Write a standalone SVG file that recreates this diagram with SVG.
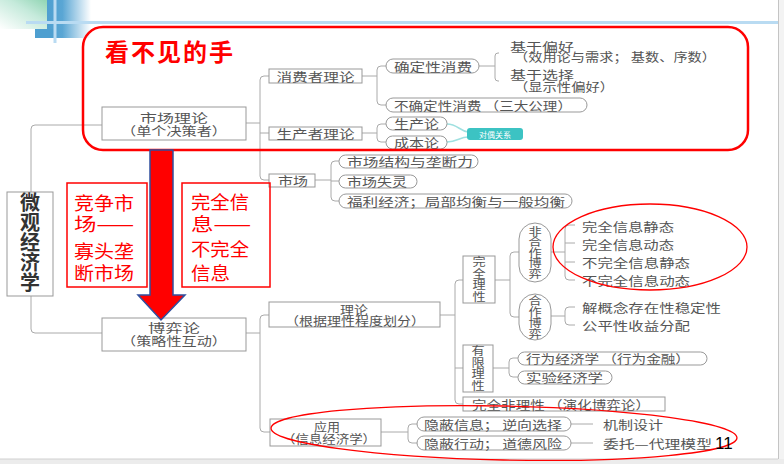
<svg xmlns="http://www.w3.org/2000/svg" width="784" height="464" viewBox="0 0 784 464">
<defs>
<linearGradient id="gGreen" x1="0" y1="1" x2="1" y2="0">
<stop offset="0" stop-color="#ffffff"/>
<stop offset="0.6" stop-color="#c5eadb"/>
<stop offset="1" stop-color="#8fd4b2"/>
</linearGradient>
<linearGradient id="gBlue" x1="0" y1="0" x2="1" y2="0">
<stop offset="0" stop-color="#4e9fd0"/>
<stop offset="0.35" stop-color="#5aa6d4"/>
<stop offset="1" stop-color="#ffffff"/>
</linearGradient>
<style>
.t{font-family:"Noto Sans CJK SC","Noto Sans CJK JP",sans-serif;font-size:12px;fill:#555;dominant-baseline:central}
.m{text-anchor:middle}
.v{font-family:"Noto Sans CJK SC","Noto Sans CJK JP",sans-serif;font-size:11px;fill:#555;text-anchor:middle;writing-mode:vertical-rl;text-orientation:upright}
.box{fill:#fff;stroke:#999;stroke-width:1}
.pill{fill:#fff;stroke:#999;stroke-width:1}
.ln{fill:none;stroke:#aaa;stroke-width:1}
.rt{font-family:"Noto Sans CJK SC","Noto Sans CJK JP",sans-serif;font-size:18px;fill:#ff0000;dominant-baseline:central}
.red{fill:none;stroke:#ff0000}
</style>
</defs>
<rect width="784" height="464" fill="#fff"/>
<!-- slide decoration -->
<rect x="0" y="0" width="48" height="29" fill="url(#gGreen)"/>
<rect x="47" y="0" width="44" height="38" fill="url(#gBlue)"/>
<rect x="35" y="29" width="20" height="9" fill="#4e9fd0"/>
<line x1="26" y1="22.5" x2="778" y2="22.5" stroke="#b9dbf2" stroke-width="3"/>
<line x1="55" y1="0" x2="55" y2="43" stroke="#b9dbf2" stroke-width="3"/>
<rect x="779" y="0" width="5" height="464" fill="#f3f3f3"/>
<rect x="0" y="459" width="784" height="5" fill="#ececec"/>
<line x1="778.5" y1="0" x2="778.5" y2="459" stroke="#c4c4c4"/>
<line x1="0" y1="459" x2="778" y2="459" stroke="#d0d0d0"/>

<!-- connectors -->
<g id="connectors">
<path class="ln" d="M102,125 H35 Q31,125 31,129 V192 M31,296 V329 Q31,333 35,333 H102"/>
<path class="ln" d="M246,123 H260 M269,76 H264 Q260,76 260,80 V176 Q260,180 264,180 H269 M260,133 H269"/>
<path class="ln" d="M362,76 H377 M386,66 H381 Q377,66 377,70 V101 Q377,105 381,105 H386"/>
<path class="ln" d="M362,133 H377 M386,124 H381 Q377,124 377,128 V138 Q377,142 381,142 H386"/>
<path class="ln" d="M479,66 H495 M499,53 H498 Q495,53 495,56 V78 Q495,81 498,81 H499"/>
<path class="ln" d="M315,180 H331 M339,161 H335 Q331,161 331,165 V197 Q331,201 335,201 H339 M331,181 H339"/>
<path class="ln" d="M246,333 H260 M269,315 H264 Q260,315 260,319 V428 Q260,432 264,432 H270"/>
<path class="ln" d="M440,315 H455 M463,280 H459 Q455,280 455,284 V400 Q455,404 459,404 H463 M455,368 H463"/>
<path class="ln" d="M495,280 H510 M519,252 H514 Q510,252 510,256 V313 Q510,317 514,317 H519"/>
<path class="ln" d="M551,252 H565 M575,225 H569 Q565,225 565,229 V276 Q565,280 569,280 H575 M565,243 H575 M565,262 H575"/>
<path class="ln" d="M551,316 H565 M575,307 H569 Q565,307 565,311 V321 Q565,325 569,325 H575"/>
<path class="ln" d="M493,368 H509 M518,358 H513 Q509,358 509,362 V373 Q509,377 513,377 H518"/>
<path class="ln" d="M381,432 H408 M417,424 H412 Q408,424 408,428 V439 Q408,443 412,443 H417"/>
<path class="ln" d="M571,424 H593 M571,443 H593"/>
<path d="M447,124 C457,124 460,131 468,132 M447,142 C457,142 460,137 468,137" fill="none" stroke="#9fe0e0" stroke-width="1.5"/>
</g>

<!-- nodes -->
<g id="n-root">
<rect class="box" x="7" y="192" width="46" height="104"/>
<text class="v" x="30" y="242" style="font-size:20px;font-weight:700;fill:#333">微观经济学</text>
</g>
<g id="n-market-theory">
<rect class="box" x="102" y="107" width="144" height="33"/>
<text class="t m" x="174" y="117.5" textLength="68" lengthAdjust="spacingAndGlyphs">市场理论</text>
<text class="t m" x="174" y="130" textLength="106" lengthAdjust="spacingAndGlyphs">（单个决策者）</text>
</g>
<g id="n-consumer">
<rect class="box" x="269" y="69" width="93" height="14"/>
<text class="t m" x="315.5" y="76" textLength="78" lengthAdjust="spacingAndGlyphs">消费者理论</text>
</g>
<g id="n-producer">
<rect class="box" x="269" y="127" width="93" height="13"/>
<text class="t m" x="315.5" y="133.5" textLength="78" lengthAdjust="spacingAndGlyphs">生产者理论</text>
</g>
<g id="n-market">
<rect class="box" x="269" y="174" width="46" height="13"/>
<text class="t m" x="293" y="180.5" textLength="30" lengthAdjust="spacingAndGlyphs">市场</text>
</g>
<g id="n-certain">
<rect class="pill" x="386" y="59" width="93" height="14" rx="7"/>
<text class="t" x="394" y="66" textLength="78" lengthAdjust="spacingAndGlyphs">确定性消费</text>
</g>
<g id="n-pref">
<text class="t" x="510" y="46" textLength="64" lengthAdjust="spacingAndGlyphs">基于偏好</text>
<text class="t" x="514" y="56.5" textLength="202" lengthAdjust="spacingAndGlyphs">（效用论与需求； 基数、序数）</text>
</g>
<g id="n-choice">
<text class="t" x="510" y="74" textLength="64" lengthAdjust="spacingAndGlyphs">基于选择</text>
<text class="t" x="514" y="86" textLength="100" lengthAdjust="spacingAndGlyphs">（显示性偏好）</text>
</g>
<g id="n-uncertain">
<rect class="pill" x="386" y="98" width="201" height="14" rx="7"/>
<text class="t" x="394" y="105" textLength="178" lengthAdjust="spacingAndGlyphs">不确定性消费 （三大公理）</text>
</g>
<g id="n-production">
<rect class="pill" x="386" y="117" width="61" height="13" rx="6.5"/>
<text class="t" x="394" y="123.5" textLength="45" lengthAdjust="spacingAndGlyphs">生产论</text>
</g>
<g id="n-cost">
<rect class="pill" x="386" y="136" width="61" height="13" rx="6.5"/>
<text class="t" x="394" y="142.5" textLength="45" lengthAdjust="spacingAndGlyphs">成本论</text>
</g>
<g id="n-dual">
<rect x="467" y="128" width="56" height="12" rx="3" fill="#3cc3c3"/>
<text x="495" y="134" text-anchor="middle" dominant-baseline="central" font-family="Noto Sans CJK SC, sans-serif" font-size="8" fill="#fff">对偶关系</text>
</g>
<g id="n-structure">
<rect class="pill" x="339" y="155" width="139" height="13" rx="6.5"/>
<text class="t" x="347" y="161.5" textLength="126" lengthAdjust="spacingAndGlyphs">市场结构与垄断力</text>
</g>
<g id="n-failure">
<rect class="pill" x="339" y="175" width="78" height="13" rx="6.5"/>
<text class="t" x="347" y="181.5" textLength="60" lengthAdjust="spacingAndGlyphs">市场失灵</text>
</g>
<g id="n-welfare">
<rect class="pill" x="339" y="194" width="233" height="14" rx="7"/>
<text class="t" x="347" y="201" textLength="218" lengthAdjust="spacingAndGlyphs">福利经济；局部均衡与一般均衡</text>
</g>
<g id="n-game">
<rect class="box" x="102" y="318" width="144" height="33"/>
<text class="t m" x="174" y="327.5" textLength="52" lengthAdjust="spacingAndGlyphs">博弈论</text>
<text class="t m" x="174" y="340.5" textLength="106" lengthAdjust="spacingAndGlyphs">（策略性互动）</text>
</g>
<g id="n-theory">
<rect class="box" x="269" y="302" width="171" height="25"/>
<text class="t m" x="354" y="309.5" textLength="28" lengthAdjust="spacingAndGlyphs">理论</text>
<text class="t m" x="355" y="320.5" textLength="140" lengthAdjust="spacingAndGlyphs">（根据理性程度划分）</text>
</g>
<g id="n-full">
<rect class="box" x="463" y="256" width="32" height="47"/>
<text class="v" x="479" y="279.5" style="letter-spacing:0.5px" transform="matrix(1.2 0 0 1 -95.8 0)">完全理性</text>
</g>
<g id="n-noncoop">
<rect class="pill" x="519" y="223" width="32" height="59" rx="16"/>
<text class="v" x="535" y="252.5" style="letter-spacing:-0.5px" transform="matrix(1.2 0 0 1 -107 0)">非合作博弈</text>
</g>
<g id="n-nc-items">
<text class="t" x="582" y="226" textLength="92" lengthAdjust="spacingAndGlyphs">完全信息静态</text>
<text class="t" x="582" y="244" textLength="92" lengthAdjust="spacingAndGlyphs">完全信息动态</text>
<text class="t" x="582" y="262.5" textLength="108" lengthAdjust="spacingAndGlyphs">不完全信息静态</text>
<text class="t" x="582" y="280.5" textLength="108" lengthAdjust="spacingAndGlyphs">不完全信息动态</text>
</g>
<g id="n-coop">
<rect class="pill" x="519" y="294" width="32" height="46" rx="16"/>
<text class="v" x="535" y="317.5" transform="matrix(1.2 0 0 1 -107 0)">合作博弈</text>
</g>
<g id="n-c-items">
<text class="t" x="582" y="307" textLength="139" lengthAdjust="spacingAndGlyphs">解概念存在性稳定性</text>
<text class="t" x="582" y="325" textLength="108" lengthAdjust="spacingAndGlyphs">公平性收益分配</text>
</g>
<g id="n-bounded">
<rect class="box" x="463" y="345" width="30" height="47"/>
<text class="v" x="478" y="368.5" style="letter-spacing:0.5px" transform="matrix(1.2 0 0 1 -95.6 0)">有限理性</text>
</g>
<g id="n-behav">
<rect class="pill" x="518" y="352" width="189" height="13" rx="6.5"/>
<text class="t" x="526" y="358.5" textLength="164" lengthAdjust="spacingAndGlyphs">行为经济学 （行为金融）</text>
</g>
<g id="n-exper">
<rect class="pill" x="518" y="371" width="94" height="13" rx="6.5"/>
<text class="t" x="526" y="377.5" textLength="77" lengthAdjust="spacingAndGlyphs">实验经济学</text>
</g>
<g id="n-irr">
<rect class="box" x="463" y="397" width="202" height="14"/>
<text class="t" x="472" y="404" textLength="178" lengthAdjust="spacingAndGlyphs">完全非理性 （演化博弈论）</text>
</g>
<g id="n-app">
<rect class="box" x="270" y="419" width="111" height="27"/>
<text class="t m" x="327" y="426.5" textLength="26" lengthAdjust="spacingAndGlyphs">应用</text>
<text class="t m" x="329" y="438.5" textLength="94" lengthAdjust="spacingAndGlyphs">（信息经济学）</text>
</g>
<g id="n-hidden-info">
<rect class="pill" x="417" y="417" width="154" height="14" rx="7"/>
<text class="t" x="424" y="424" textLength="138" lengthAdjust="spacingAndGlyphs">隐蔽信息； 逆向选择</text>
</g>
<g id="n-hidden-act">
<rect class="pill" x="417" y="436" width="154" height="14" rx="7"/>
<text class="t" x="424" y="443" textLength="138" lengthAdjust="spacingAndGlyphs">隐蔽行动； 道德风险</text>
</g>
<g id="n-mech">
<text class="t" x="603" y="424" textLength="60" lengthAdjust="spacingAndGlyphs">机制设计</text>
</g>
<g id="n-agent">
<text class="t" x="603" y="443" textLength="109" lengthAdjust="spacingAndGlyphs">委托—代理模型</text>
</g>

<!-- annotations -->
<g id="invisible-hand">
<rect class="red" x="83" y="27" width="665" height="123" rx="20" stroke-width="2.5"/>
<text x="105" y="50" dominant-baseline="central" font-family="Noto Sans CJK SC, sans-serif" font-size="24" font-weight="700" fill="#ff0000" letter-spacing="2">看不见的手</text>
</g>
<g id="arrow">
<polygon points="150,150 173,150 173,295 185,295 161,320 138,295 150,295" fill="#ff0000" stroke="#2f4f9f" stroke-width="1.5"/>
</g>
<g id="note-competition">
<rect class="red" x="67" y="183" width="80" height="104" stroke-width="1.5"/>
<text class="rt" x="74" y="202" textLength="60" lengthAdjust="spacingAndGlyphs">竞争市</text>
<text class="rt" x="74" y="223" textLength="60" lengthAdjust="spacingAndGlyphs">场——</text>
<text class="rt" x="74" y="250" textLength="60" lengthAdjust="spacingAndGlyphs">寡头垄</text>
<text class="rt" x="74" y="272" textLength="60" lengthAdjust="spacingAndGlyphs">断市场</text>
</g>
<g id="note-info">
<rect class="red" x="182" y="183" width="88" height="104" stroke-width="1.5"/>
<text class="rt" x="191" y="201" textLength="58" lengthAdjust="spacingAndGlyphs">完全信</text>
<text class="rt" x="191" y="223" textLength="60" lengthAdjust="spacingAndGlyphs">息——</text>
<text class="rt" x="191" y="248" textLength="58" lengthAdjust="spacingAndGlyphs">不完全</text>
<text class="rt" x="191" y="272" textLength="39" lengthAdjust="spacingAndGlyphs">信息</text>
</g>
<ellipse class="red" cx="650" cy="247" rx="97" ry="43" stroke-width="1.3"/>
<ellipse class="red" cx="504" cy="433" rx="233" ry="27" stroke-width="1.3" transform="rotate(1.2 504 433)"/>
<text x="715" y="449" font-family="Liberation Sans, Arial, sans-serif" font-size="17" fill="#000">11</text>
</svg>
